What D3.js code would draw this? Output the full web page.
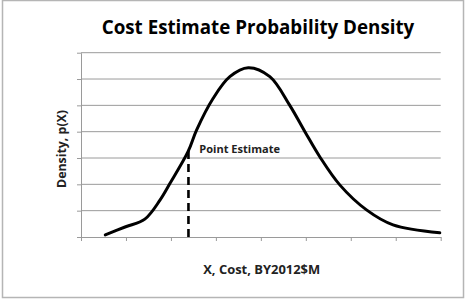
<!DOCTYPE html>
<html><head><meta charset="utf-8">
<script src="https://cdn.jsdelivr.net/npm/d3@7"></script>
<style>html,body{margin:0;padding:0;background:#fff;}svg{display:block;}</style>
</head><body>
<script>
const titleText = "Cost Estimate Probability Density";
const xLabel = "X, Cost, BY2012$M";
const yLabel = "Density, p(X)";
const xTicks = [0, 1, 2, 3, 4, 5, 6, 7, 8];
const yTicks = [0, 1, 2, 3, 4, 5, 6, 7];
const curveX = [0.54, 0.98, 1.42, 1.76, 1.98, 2.38, 2.57, 2.94, 3.31, 3.72, 4.2, 4.64, 4.98, 5.31, 5.76, 6.35, 6.94, 7.98];
const curveY = [0.08, 0.38, 0.68, 1.41, 2.04, 3.24, 4.06, 5.27, 6.09, 6.43, 6.09, 5.01, 4.0, 3.05, 1.97, 1.03, 0.46, 0.16];
const pointEstimateX = 2.39;
const pointEstimateY = 3.27;
const pointLabel = "Point Estimate";

const W = 467, H = 306;
const svg = d3.select("body").append("svg").attr("width", W).attr("height", H);
const font = "'Open Sans', 'Liberation Sans', sans-serif";

svg.append("rect").attr("x", 2.5).attr("y", 0.5).attr("width", 461).attr("height", 297)
  .attr("fill", "#fff").attr("stroke", "#b5b5b5").attr("stroke-width", 1.5);

const x = d3.scaleLinear().domain([0, 8]).range([81, 440.7]);
const y = d3.scaleLinear().domain([0, 7]).range([237, 52.7]);

const grid = "#9a9a9a";
svg.append("g").selectAll("line").data(yTicks.slice(1)).join("line")
  .attr("x1", x(0)).attr("x2", x(8)).attr("y1", d => y(d)).attr("y2", d => y(d))
  .attr("stroke", grid).attr("stroke-width", 1);

const yAxis = d3.axisLeft(y).tickValues(yTicks).tickFormat("").tickSize(4).tickSizeOuter(0);
const gy = svg.append("g").attr("transform", `translate(${x(0)},0)`).call(yAxis);
const xAxis = d3.axisBottom(x).tickValues(xTicks).tickFormat("").tickSize(4).tickSizeOuter(0);
const gx = svg.append("g").attr("transform", `translate(0,${y(0)})`).call(xAxis);
[gx, gy].forEach(g => { g.selectAll("path,line").attr("stroke", grid).attr("stroke-width", 1); });

const pts = curveX.map((v, i) => [v, curveY[i]]);
svg.append("path").datum(pts)
  .attr("d", d3.line().x(d => x(d[0])).y(d => y(d[1])).curve(d3.curveCatmullRom.alpha(0.5)))
  .attr("fill", "none").attr("stroke", "#000").attr("stroke-width", 3).attr("stroke-linecap", "round");

svg.append("line").attr("x1", x(pointEstimateX)).attr("x2", x(pointEstimateX))
  .attr("y1", y(pointEstimateY)).attr("y2", y(0))
  .attr("stroke", "#000").attr("stroke-width", 2.6).attr("stroke-dasharray", "8,5");

function fitText(sel, target) {
  const len = sel.node().getComputedTextLength();
  const fs = parseFloat(sel.attr("font-size"));
  if (len > 0) sel.attr("font-size", (fs * target / len).toFixed(2));
  return sel;
}

fitText(svg.append("text").attr("x", 199.3).attr("y", 152.5).text(pointLabel)
  .attr("font-family", font).attr("font-weight", 700).attr("font-size", 10).attr("fill", "#222"), 80.7);

fitText(svg.append("text").attr("x", 258).attr("y", 34.3).attr("text-anchor", "middle").text(titleText)
  .attr("font-family", font).attr("font-weight", 700).attr("font-size", 17).attr("fill", "#000"), 312.7);

fitText(svg.append("text").attr("x", 261.7).attr("y", 274).attr("text-anchor", "middle").text(xLabel)
  .attr("font-family", font).attr("font-weight", 700).attr("font-size", 11).attr("fill", "#222"), 117);

fitText(svg.append("text").attr("transform", "translate(66,149) rotate(-90)").attr("text-anchor", "middle").text(yLabel)
  .attr("font-family", font).attr("font-weight", 700).attr("font-size", 11).attr("fill", "#222"), 78);
</script>
</body></html>
